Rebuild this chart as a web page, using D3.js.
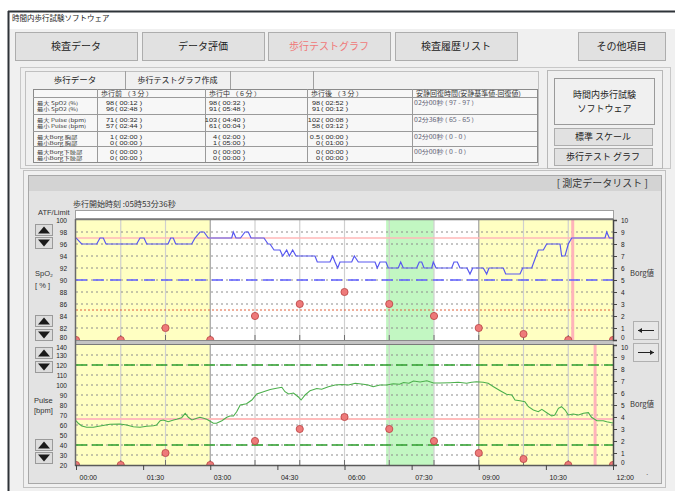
<!DOCTYPE html>
<html><head><meta charset="utf-8">
<script src="https://cdn.jsdelivr.net/npm/d3@7"></script>
<style>
body{margin:0;background:#fff}
svg{display:block}
</style>
</head><body>
<svg id="c" width="675" height="491"></svg>
<script>
// ---------------- DATA ----------------
const windowTitle = "時間内歩行試験ソフトウェア";
const navButtons = ["検査データ", "データ評価", "歩行テストグラフ", "検査履歴リスト", "その他項目"];
const tabLabels = ["歩行データ", "歩行テストグラフ作成", ""];
const tableHeaders = ["", "歩行前 （ 3 分 ）", "歩行中 （ 6 分 ）", "歩行後 （ 3 分 ）", "安静回復時間(安静基準値-回復値)"];
const rowLabels = [["最大 SpO2 (%)", "最小 SpO2 (%)"], ["最大 Pulse (bpm)", "最小 Pulse (bpm)"], ["最大Borg 胸部", "最小Borg 胸部"], ["最大Borg下肢部", "最小Borg下肢部"]];
const preValues = [[["98", "00:12"], ["96", "02:48"]], [["71", "00:32"], ["57", "02:44"]], [["1", "02:00"], ["0", "00:00"]], [["0", "00:00"], ["0", "00:00"]]];
const duringValues = [[["98", "00:32"], ["91", "05:48"]], [["103", "04:40"], ["61", "00:04"]], [["4", "02:00"], ["1", "05:00"]], [["0", "00:00"], ["0", "00:00"]]];
const postValues = [[["98", "02:52"], ["91", "00:12"]], [["102", "00:08"], ["58", "03:12"]], [["0.5", "00:00"], ["0", "01:00"]], [["0", "00:00"], ["0", "00:00"]]];
const recoveryValues = ["02分00秒 ( 97 - 97 )", "02分36秒 ( 65 - 65 )", "02分00秒 ( 0 - 0 )", "00分00秒 ( 0 - 0 )"];
const sideTitle = ["時間内歩行試験", "ソフトウェア"];
const sideButtons = ["標準 スケール", "歩行テスト グラフ"];
const panelTitle = "[ 測定データリスト ]";
const startTimeLabel = "歩行開始時刻 :05時53分36秒";

const xTickValues = [0, 1.5, 3, 4.5, 6, 7.5, 9, 10.5, 12];
const xTickLabels = ["00:00", "01:30", "03:00", "04:30", "06:00", "07:30", "09:00", "10:30", "12:00"];
const spo2Ticks = [80, 82, 84, 86, 88, 90, 92, 94, 96, 98, 100];
const pulseTicks = [20, 30, 40, 50, 60, 70, 80, 90, 100, 110, 120, 130, 140];
const borgTicks = [0, 1, 2, 3, 4, 5, 6, 7, 8, 9, 10];

// phases (minutes)
const yellowPhases = [[0, 3], [9, 12]];
const greenPhases = [[6.93, 8.0]];

// reference lines
const spo2Rest = 97, spo2Limit = 90, borgAlert = 2.5;
const pulseRest = 66, pulseUpper = 120, pulseLower = 40;
const markerTop = 11.1, markerBottom = 11.6;

// SpO2 [minute, %]
const spo2Data = [
 [0.00,97],[0.127,96],[0.463,96],[0.536,97],[0.610,97],[0.670,96],[1.356,96],[1.430,97],[1.520,97],[1.580,96],
 [2.056,96],[2.116,97],[2.174,97],[2.228,96],[2.585,96],[2.659,97],[2.771,98],[2.860,98],[2.956,97],[3.479,97],
 [3.515,98],[3.575,97],[3.676,97],[3.777,98],[3.850,98],[3.911,97],[4.201,97],[4.291,96],[4.335,96],[4.425,95],
 [4.559,95],[4.619,94],[4.708,95],[4.766,94],[4.842,95],[4.916,94],[5.341,94],[5.392,93],[5.676,93],[5.736,94],
 [5.788,93],[5.848,92],[5.899,93],[6.161,93],[6.219,94],[6.308,93],[6.682,93],[6.733,92],[6.793,93],[6.927,93],
 [6.979,92],[7.202,92],[7.256,93],[7.314,92],[7.613,92],[7.671,93],[7.725,93],[7.777,92],[7.949,92],[7.984,93],
 [8.045,92],[8.395,92],[8.447,93],[8.521,93],[8.581,92],[8.737,92],[8.804,91],[8.865,92],[9.101,92],[9.177,91],
 [9.229,92],[9.548,92],[9.602,91],[9.922,91],[9.982,92],[10.183,92],[10.331,95],[10.443,95],[10.518,96],[10.816,96],
 [10.853,94],[10.927,94],[11.001,96],[11.077,97],[11.821,97],[11.859,98],[11.918,97],[12.0,97]
];

// Pulse [minute, bpm]
const pulseData = [
 [0.00,64.3],[0.05,61.7],[0.13,59],[0.24,57.7],[0.39,57.7],[0.54,59],[0.76,60.7],[0.98,61],[1.13,60],[1.28,58.3],
 [1.43,57.7],[1.58,58.7],[1.73,59.3],[1.80,60],[1.88,64.3],[1.95,65],[2.06,63.3],[2.18,65],[2.25,65.7],[2.36,67.3],
 [2.44,71.7],[2.51,67.7],[2.59,65],[2.70,66.7],[2.77,67.7],[2.85,66.7],[2.92,65.7],[2.98,64.3],[3.07,61.7],[3.14,61.7],
 [3.26,64.3],[3.37,67.7],[3.44,69],[3.52,69],[3.59,73.3],[3.67,80],[3.81,81.3],[3.93,85],[4.04,91],[4.19,93.3],
 [4.34,95.5],[4.48,96.7],[4.60,97.7],[4.67,93.3],[4.75,91],[4.86,92],[4.97,88],[5.03,85],[5.12,90],[5.23,94.3],
 [5.38,96.5],[5.49,95.7],[5.64,98.3],[5.79,100],[5.94,100.5],[6.09,100],[6.24,101.7],[6.42,100.7],[6.53,100],[6.64,98.3],
 [6.79,100],[6.94,100],[7.09,101.3],[7.23,100.7],[7.32,102.5],[7.44,101.7],[7.54,104],[7.69,103],[7.84,104.3],[7.99,102],
 [8.13,102],[8.36,102.3],[8.54,102.7],[8.73,101.7],[8.84,102.7],[8.95,103.3],[9.10,102.7],[9.21,101.7],[9.33,98.3],[9.48,94.3],
 [9.62,90.7],[9.74,90],[9.81,85],[9.92,84.3],[10.03,83.3],[10.11,78.3],[10.22,75],[10.33,73.3],[10.41,75.7],[10.52,72.3],
 [10.63,69],[10.70,70],[10.78,76.7],[10.85,78.3],[10.93,75],[11.00,70],[11.11,71],[11.23,70],[11.34,71.7],[11.45,72.3],
 [11.52,67.7],[11.64,64.3],[11.78,64.3],[11.86,63.3],[11.97,62.3],[12.0,62]
];

// Borg [minute, value]
const borgData = [[0,0],[1,0],[2,1],[3,0],[4,2],[5,3],[6,4],[7,3],[8,2],[9,1],[10,0.5],[11,0],[12,0]];

// ---------------- DRAW ----------------
const svg = d3.select("#c");
const JP = '"Noto Sans CJK JP","Noto Sans",sans-serif';
const LAT = '"Liberation Sans",Arial,sans-serif';

function rect(g, x, y, w, h, fill, stroke, sw) {
  return g.append("rect").attr("x", x).attr("y", y).attr("width", w).attr("height", h)
    .attr("fill", fill).attr("stroke", stroke || "none").attr("stroke-width", sw || 1);
}
function txt(g, x, y, s, size, opt) {
  opt = opt || {};
  const t = g.append("text").text(s)
    .attr("font-size", size).attr("font-family", opt.font || JP)
    .attr("fill", opt.fill || "#222").attr("text-anchor", opt.anchor || "start")
    .attr("dominant-baseline", opt.base || "auto");
  if (opt.sy || opt.sx) {
    t.attr("x", 0).attr("y", 0).attr("transform", `translate(${x},${y}) scale(${opt.sx || 1},${opt.sy || 1})`);
  } else {
    t.attr("x", x).attr("y", y);
  }
  return t;
}
function line(g, x1, y1, x2, y2, stroke, sw, dash) {
  const l = g.append("line").attr("x1", x1).attr("y1", y1).attr("x2", x2).attr("y2", y2)
    .attr("stroke", stroke).attr("stroke-width", sw || 1);
  if (dash) l.attr("stroke-dasharray", dash);
  return l;
}
function button(g, x, y, w, h, label, size, color) {
  rect(g, x + 0.5, y + 0.5, w, h, "#e1e1e1", "#adadad");
  txt(g, x + w / 2, y + h / 2 + 1, label, size, {anchor: "middle", base: "middle", fill: color || "#222"});
}

// window
rect(svg, 0, 0, 675, 491, "#fff");
rect(svg, 9, 29, 666, 462, "#f0f0f0");
line(svg, 8, 11.5, 675, 11.5, "#2e3338", 2);
line(svg, 8.5, 11, 8.5, 491, "#2e3338", 2);
txt(svg, 12, 21, windowTitle, 7.5);

// nav buttons
const navX = [15, 142, 268, 395, 578];
const navW = [122, 122, 122, 122, 87];
navButtons.forEach((b, i) => button(svg, navX[i], 32, navW[i], 28, b, 10, i === 2 ? "#f07878" : "#222"));

// upper panel
rect(svg, 20.5, 67.5, 650, 101, "none", "#c8c8c8");
rect(svg, 25.5, 71.5, 513, 94, "#f0f0f0", "#c0c0c0");
const tabX = [25, 125, 230, 313];
tabLabels.forEach((t, i) => {
  line(svg, tabX[i + 1] + 0.5, 71, tabX[i + 1] + 0.5, 89, "#a0a0a0");
  if (t) txt(svg, (tabX[i] + tabX[i + 1]) / 2, 81, t, i === 0 ? 8.5 : 8, {anchor: "middle", base: "middle"});
});

// table
const colX = [33, 97, 205, 307, 412, 537];
const rowY = [89, 97, 114, 131, 146, 162];
const tg = svg.append("g");
rect(tg, colX[0] + 0.5, rowY[0] + 0.5, colX[5] - colX[0], rowY[5] - rowY[0], "#f7f7f7", "#8a8a8a");
rowY.slice(1, 5).forEach(y => line(tg, colX[0], y + 0.5, colX[5], y + 0.5, "#9a9a9a"));
colX.slice(1, 5).forEach(x => line(tg, x + 0.5, rowY[0], x + 0.5, rowY[5], "#9a9a9a"));
tableHeaders.forEach((h, i) => { if (h) txt(tg, colX[i] + 4, 95.5, h, 7, {fill: "#333", sy: 0.9}); });
const numRight = [114, 217, 320];
const LH = 6.6;
[preValues, duringValues, postValues].forEach((col, ci) => {
  col.forEach((row, ri) => {
    row.forEach((v, li) => {
      const by = rowY[ri + 1] + 7.6 + li * LH;
      txt(tg, numRight[ci], by, v[0], 7.3, {anchor: "end", font: LAT, fill: "#2a2a2a", sy: 0.78});
      txt(tg, numRight[ci] + 1, by, "( " + v[1] + " )", 7.3, {font: LAT, fill: "#2a2a2a", sy: 0.78});
    });
  });
});
rowLabels.forEach((r, ri) => r.forEach((s, li) => {
  txt(tg, 37, rowY[ri + 1] + 7.6 + li * LH, s, 6.3, {fill: "#333", sy: 0.72});
}));
recoveryValues.forEach((s, ri) => txt(tg, 414, rowY[ri + 1] + 7.5, s, 7, {fill: "#667", sy: 0.8}));

// right group
rect(svg, 547.5, 70.5, 115, 98, "none", "#b8b8b8");
rect(svg, 554.5, 78.5, 100, 46, "#f0f0f0", "#9a9a9a");
sideTitle.forEach((s, i) => txt(svg, 604.5, 96 + i * 14, s, 9, {anchor: "middle", base: "middle"}));
button(svg, 554, 128, 98, 17, sideButtons[0], 9);
button(svg, 554, 148, 98, 17, sideButtons[1], 9);

// chart panel
rect(svg, 23.5, 170.5, 642, 317, "#f0f0f0", "#c0c0c0");
rect(svg, 28.5, 175.5, 633, 308, "#e3e3e3", "#a8a8a8");
rect(svg, 29, 176, 632, 15, "#d3d3d3");
txt(svg, 648, 184, panelTitle, 10, {anchor: "end", base: "middle", fill: "#333"});
txt(svg, 73, 205, startTimeLabel, 8, {base: "middle", fill: "#333"});
txt(svg, 38, 213.5, "ATF/Limit", 7.5, {base: "middle", font: LAT, fill: "#333"});
rect(svg, 75.5, 210.5, 538, 8, "#fff", "#a0a0a0");

// scales
const x = d3.scaleLinear().domain([0, 12]).range([76, 613]);
const ySp = d3.scaleLinear().domain([80, 100]).range([340, 220]);
const yPu = d3.scaleLinear().domain([20, 140]).range([465, 345]);
const bTop = d3.scaleLinear().domain([0, 10]).range([340, 220]);
const bBot = d3.scaleLinear().domain([0, 10]).range([465, 345]);

const defs = svg.append("defs");
function plot(id, y0, y1, yScale, ticks, marker) {
  defs.append("clipPath").attr("id", id).append("rect").attr("x", 76).attr("y", y0).attr("width", 537).attr("height", y1 - y0);
  const g = svg.append("g");
  const c = g.append("g").attr("clip-path", `url(#${id})`);
  rect(c, 76, y0, 537, y1 - y0, "#fff");
  yellowPhases.forEach(p => rect(c, x(p[0]), y0, x(p[1]) - x(p[0]), y1 - y0, "#ffffc2"));
  greenPhases.forEach(p => rect(c, x(p[0]), y0, x(p[1]) - x(p[0]), y1 - y0, "#c2f7c2"));
  d3.range(1, 12).forEach(m => {
    const dark = (m === 3 || m === 9);
    line(c, x(m), y0, x(m), y1, dark ? "#a8a8a8" : "#cfcfcf", dark ? 1.3 : 1.2);
    line(c, x(m), y1 - 5, x(m), y1, "#707070", 1);
  });
  ticks.slice(1, -1).forEach(t => line(c, 76, yScale(t), 613, yScale(t), "#8c8c8c", 1, "2,3"));
  line(c, x(marker), y0, x(marker), y1, "#ffb3ba", 3);
  return {g, c};
}

// top plot (SpO2)
const topPlot = plot("clipTop", 220, 340, ySp, spo2Ticks, markerTop);
line(topPlot.c, 76, ySp(spo2Rest), 613, ySp(spo2Rest), "#ffb8b8", 1.5);
line(topPlot.c, 76, bTop(borgAlert), 613, bTop(borgAlert), "#e0603a", 1, "2,2");
line(topPlot.c, 76, ySp(spo2Limit), 613, ySp(spo2Limit), "#5f5fff", 1.5, "11,6");
topPlot.c.append("path").datum(spo2Data)
  .attr("d", d3.line().x(d => x(d[0])).y(d => ySp(d[1])))
  .attr("fill", "none").attr("stroke", "#5858f0").attr("stroke-width", 1.2);
topPlot.c.selectAll("circle").data(borgData).join("circle")
  .attr("cx", d => x(d[0])).attr("cy", d => bTop(d[1])).attr("r", 3.6)
  .attr("fill", "#ee7a7a").attr("stroke", "#b84040").attr("stroke-width", 0.8);

// bottom plot (Pulse)
const botPlot = plot("clipBot", 345, 465, yPu, pulseTicks, markerBottom);
line(botPlot.c, 76, yPu(pulseRest), 613, yPu(pulseRest), "#ffbcbc", 2);
[pulseUpper, pulseLower].forEach(v => line(botPlot.c, 76, yPu(v), 613, yPu(v), "#2ea02e", 1.3, "11,5"));
botPlot.c.append("path").datum(pulseData)
  .attr("d", d3.line().x(d => x(d[0])).y(d => yPu(d[1])))
  .attr("fill", "none").attr("stroke", "#4caf4c").attr("stroke-width", 1.1);
botPlot.c.selectAll("circle").data(borgData).join("circle")
  .attr("cx", d => x(d[0])).attr("cy", d => bBot(d[1])).attr("r", 3.6)
  .attr("fill", "#ee7a7a").attr("stroke", "#b84040").attr("stroke-width", 0.8);

// frames
line(svg, 75, 219.5, 614, 219.5, "#7a7a7a", 1.5);
rect(svg, 75, 340, 539, 5, "#c4c4c4");
line(svg, 75, 340.5, 614, 340.5, "#8a8a8a", 1);
line(svg, 75, 344.5, 614, 344.5, "#7a7a7a", 1);
line(svg, 75.5, 219, 75.5, 466, "#6a6a6a", 1.5);
line(svg, 75, 465.5, 614, 465.5, "#5a5a5a", 1.5);

// axes
function styleAxis(sel, size) {
  sel.selectAll("text").attr("font-family", LAT).attr("font-size", size).attr("fill", "#222");
  sel.selectAll(".tick line").attr("stroke", "#444");
}
const la1 = svg.append("g").attr("transform", "translate(76,0)")
  .call(d3.axisLeft(ySp).tickValues(spo2Ticks).tickSize(0).tickPadding(9));
la1.select(".domain").remove(); styleAxis(la1, 6.5);
la1.selectAll(".tick").filter(d => d === 80).select("text").attr("dy", "-0.1em");
const la2 = svg.append("g").attr("transform", "translate(76,0)")
  .call(d3.axisLeft(yPu).tickValues(pulseTicks).tickSize(0).tickPadding(9));
la2.select(".domain").remove(); styleAxis(la2, 6.5);
la2.selectAll(".tick").filter(d => d === 140).select("text").attr("dy", "0.75em");
const ra1 = svg.append("g").attr("transform", "translate(613,0)")
  .call(d3.axisRight(bTop).tickValues(borgTicks).tickSize(4).tickPadding(4));
ra1.select(".domain").attr("stroke", "#444").attr("stroke-width", 1.5); styleAxis(ra1, 6.5);
const ra2 = svg.append("g").attr("transform", "translate(613,0)")
  .call(d3.axisRight(bBot).tickValues(borgTicks).tickSize(4).tickPadding(4));
ra2.select(".domain").attr("stroke", "#444").attr("stroke-width", 1.5); styleAxis(ra2, 6.5);
ra1.selectAll(".tick").filter(d => d === 0).select("text").attr("dy", "-0.15em");
ra2.selectAll(".tick").filter(d => d === 10).select("text").attr("dy", "0.75em");
ra2.selectAll(".tick").filter(d => d === 0).select("text").attr("dy", "-0.1em");
const xa = svg.append("g").attr("transform", "translate(0,465)")
  .call(d3.axisBottom(x).tickValues(xTickValues).tickFormat((d, i) => xTickLabels[i]).tickSize(5).tickPadding(5));
xa.select(".domain").remove(); styleAxis(xa, 7);
xa.selectAll("text").attr("text-anchor", "start").attr("dx", 3);
txt(svg, 645, 477, "·", 8, {fill: "#777"});

// axis titles
txt(svg, 35, 274, "SpO₂", 7.5, {base: "middle", font: LAT, fill: "#333"});
txt(svg, 35, 286, "[ % ]", 7.5, {base: "middle", font: LAT, fill: "#333"});
txt(svg, 34, 401, "Pulse", 7.5, {base: "middle", font: LAT, fill: "#333"});
txt(svg, 34, 411, "[bpm]", 7.5, {base: "middle", font: LAT, fill: "#333"});
txt(svg, 630, 274, "Borg値", 7.5, {base: "middle", fill: "#333"});
txt(svg, 630, 405, "Borg値", 7.5, {base: "middle", fill: "#333"});

// up/down buttons
function arrowBtn(bx, by, up) {
  rect(svg, bx + 0.5, by + 0.5, 17, 11, "#dcdcdc", "#9a9a9a");
  const cx = bx + 9, cy = by + 6;
  const pts = up ? [[cx - 6, cy + 3.5], [cx + 6, cy + 3.5], [cx, cy - 3.5]] : [[cx - 6, cy - 3.5], [cx + 6, cy - 3.5], [cx, cy + 3.5]];
  svg.append("polygon").attr("points", pts.map(p => p.join(",")).join(" ")).attr("fill", "#1a1a1a");
}
[[224, 237], [315, 329], [347, 361], [439, 452]].forEach(p => { arrowBtn(35, p[0], true); arrowBtn(35, p[1], false); });

// side arrow buttons
function sideBtn(by, dir) {
  rect(svg, 633.5, by + 0.5, 25, 18, "#e6e6e6", "#b0b0b0");
  const y = by + 9.5;
  line(svg, 638, y, 654, y, "#222", 1);
  const tip = dir < 0 ? 638 : 654;
  svg.append("polygon").attr("points", `${tip},${y} ${tip - dir * 4},${y - 2.5} ${tip - dir * 4},${y + 2.5}`).attr("fill", "#222");
}
sideBtn(321, -1);
sideBtn(343, 1);
</script>
</body></html>
